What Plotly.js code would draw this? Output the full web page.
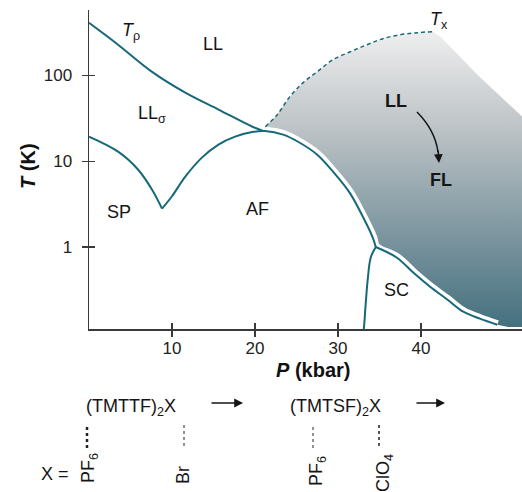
<!DOCTYPE html>
<html>
<head>
<meta charset="utf-8">
<script src="https://cdn.plot.ly/plotly-3.0.1.min.js"></script>
<style>
  html, body { margin: 0; padding: 0; background: #fff; }
  #chart { width: 522px; height: 492px; }
</style>
</head>
<body>
<div id="chart"></div>
<script>
// ---- Data (P in kbar, T in K) ----
const P_TRHO = [0, 3.5, 7.6, 11.6, 15.6, 19.7, 21.0];
const T_TRHO = [410, 228, 110, 63, 40, 25.2, 22.5];

const P_SP = [0, 3.5, 5.9, 7.6, 8.8];
const T_SP = [19.3, 12.9, 8.0, 4.65, 2.8];

const P_AF = [8.8, 10.0, 11.6, 13.6, 15.6, 17.6, 19.8, 21.2, 23.4, 25.4, 27.5, 29.4, 31.4, 33.0, 34.2, 34.55];
const T_AF = [2.8, 3.9, 6.6, 11.0, 15.6, 19.3, 22.0, 22.5, 20.4, 16.4, 11.9, 7.55, 4.3, 2.25, 1.28, 1.0];

const P_SC_LEFT = [34.55, 33.94, 33.58, 33.33, 33.1, 33.0];
const T_SC_LEFT = [1.0, 0.75, 0.416, 0.213, 0.111, 0.102];

const P_SC_UP = [34.55, 37.1, 39.1, 41.1, 43.2, 45.1, 47.1, 49.2];
const T_SC_UP = [1.0, 0.75, 0.50, 0.344, 0.243, 0.176, 0.146, 0.124];

const P_TX = [21.24, 22.68, 24.2, 25.8, 27.5, 29.4, 31.5, 33.5, 35.4, 37.5, 39.6, 41.4];
const T_TX = [25.2, 34.8, 56.5, 82.2, 110.4, 152.4, 188.8, 227.9, 267.8, 298, 314.6, 323];

// outer (right/bottom) edge of the shaded crossover region
const P_SHADE_EDGE = [42.3, 46.8, 52.2, 56, 56, 50.5];
const T_SHADE_EDGE = [285, 102, 33, 14.9, 0.117, 0.117];

const X_TICKS = [10, 20, 30, 40];
const Y_TICKS = [1, 10, 100];
const Y_TICKTEXT = ['1', '10', '100'];

// ---- build ----
const FONT = 'Liberation Sans, Arial, Helvetica, sans-serif';
const TEAL = '#17697a';
const X_RANGE = [0, 52.17];
const Y_RANGE = [-0.956, 2.762];

const iTop = P_AF.indexOf(21.2);
const afRightP = P_AF.slice(iTop);
const afRightT = T_AF.slice(iTop);

const shadeP = [].concat(P_TX, P_SHADE_EDGE, P_SC_UP.slice().reverse(), afRightP.slice().reverse().slice(1));
const shadeT = [].concat(T_TX, T_SHADE_EDGE, T_SC_UP.slice().reverse(), afRightT.slice().reverse().slice(1));

const gapP = [].concat(afRightP, P_SC_UP.slice(1));
const gapT = [].concat(afRightT, T_SC_UP.slice(1));

function curve(x, y, extra) {
  return Object.assign({
    x: x, y: y, mode: 'lines', type: 'scatter',
    line: { color: TEAL, width: 2, shape: 'spline', smoothing: 1 },
    hoverinfo: 'skip', showlegend: false
  }, extra || {});
}

const traces = [
  {
    x: shadeP, y: shadeT, mode: 'lines', type: 'scatter', fill: 'toself',
    line: { width: 0, shape: 'linear', color: 'rgba(0,0,0,0)' },
    fillgradient: {
      type: 'vertical',
      colorscale: [[0, 'rgb(68,112,126)'], [0.3, 'rgb(122,148,158)'], [0.68, 'rgb(190,196,199)'], [1, 'rgb(238,238,238)']]
    },
    hoverinfo: 'skip', showlegend: false
  },
  curve(gapP, gapT, { line: { color: '#ffffff', width: 9, shape: 'spline', smoothing: 1 } }),
  curve(P_TRHO, T_TRHO),
  curve(P_SP, T_SP),
  curve(P_AF, T_AF),
  curve(P_SC_LEFT, T_SC_LEFT),
  curve(P_SC_UP, T_SC_UP),
  curve(P_TX, T_TX, { line: { color: TEAL, width: 1.5, dash: '4px,3px', shape: 'spline', smoothing: 1 } }),
  // invisible helpers for the inside-tick overlay axes
  { x: [10], y: [1], xaxis: 'x2', yaxis: 'y', mode: 'markers', marker: { opacity: 0 }, hoverinfo: 'skip', showlegend: false },
  { x: [10], y: [1], xaxis: 'x', yaxis: 'y2', mode: 'markers', marker: { opacity: 0 }, hoverinfo: 'skip', showlegend: false }
];

// pixel -> paper helpers for decorations
const L = 89, W = 433, T0 = 10, H = 319;
const px = X => (X - L) / W;
const py = Y => (T0 + H - Y) / H;

function label(X, Y, text, opts) {
  return Object.assign({
    xref: 'paper', yref: 'paper', x: px(X), y: py(Y), text: text,
    showarrow: false, xanchor: 'center', yanchor: 'middle',
    font: { family: FONT, size: 18, color: '#151515' }
  }, opts || {});
}
function arrow(X1, Y1, X2, Y2) {
  return {
    xref: 'paper', yref: 'paper', x: px(X2), y: py(Y2), ax: X1 - X2, ay: Y1 - Y2,
    text: '', showarrow: true, arrowhead: 2, arrowsize: 1.1, arrowwidth: 1.6, arrowcolor: '#151515'
  };
}

const annotations = [
  label(131, 31, '<i>T</i><sub>ρ</sub>'),
  label(213, 43.5, 'LL'),
  label(152, 114, 'LL<sub>σ</sub>'),
  label(119, 212, 'SP'),
  label(257, 209, 'AF'),
  label(396, 290, 'SC'),
  label(439, 20, '<i>T</i><sub>x</sub>'),
  label(396, 101, '<b>LL</b>'),
  label(441, 180, '<b>FL</b>'),
  arrow(438, 149, 439, 163),
  label(28, 166, '<b><i>T</i> (K)</b>', { textangle: -90, font: { family: FONT, size: 20, color: '#111' } }),
  label(313, 370, '<b><i>P</i> (kbar)</b>', { font: { family: FONT, size: 20, color: '#111' } }),
  label(130.5, 407, '(TMTTF)<sub>2</sub>X'),
  arrow(210, 403, 243, 403),
  label(335, 407, '(TMTSF)<sub>2</sub>X'),
  arrow(415, 403, 445, 403),
  label(55, 474, 'X ='),
  label(89, 468, 'PF<sub>6</sub>', { textangle: -90 }),
  label(183, 475, 'Br', { textangle: -90 }),
  label(318, 471, 'PF<sub>6</sub>', { textangle: -90 }),
  label(384, 473, 'ClO<sub>4</sub>', { textangle: -90 })
];

function vdots(X, Y1, Y2, w) {
  return { type: 'line', xref: 'paper', yref: 'paper', x0: px(X), x1: px(X), y0: py(Y1), y1: py(Y2),
           line: { color: '#222', width: w, dash: 'dot' } };
}
const shapes = [
  { type: 'path', xref: 'paper', yref: 'paper',
    path: 'M ' + px(417) + ' ' + py(112) + ' Q ' + px(435) + ' ' + py(130) + ' ' + px(438) + ' ' + py(152),
    line: { color: '#151515', width: 1.5 } },
  vdots(87, 427, 450, 2.5),
  vdots(184, 425, 448, 1),
  vdots(313, 427, 448, 1),
  vdots(379, 425, 448, 1.5)
];

const axisCommon = { showgrid: false, zeroline: false, fixedrange: true };
const layout = {
  width: 522, height: 492,
  margin: { l: L, r: 0, t: T0, b: 492 - T0 - H, pad: 0 },
  paper_bgcolor: '#ffffff', plot_bgcolor: '#ffffff',
  showlegend: false,
  font: { family: FONT, color: '#222' },
  xaxis: Object.assign({}, axisCommon, {
    range: X_RANGE, showline: true, linecolor: '#3a3a3a', linewidth: 1.5,
    ticks: 'outside', ticklen: 6, tickwidth: 1.2, tickcolor: '#3a3a3a',
    tickmode: 'array', tickvals: X_TICKS, ticktext: X_TICKS.map(String),
    ticklabelstandoff: -3,
    tickfont: { family: FONT, size: 17, color: '#222' }
  }),
  xaxis2: Object.assign({}, axisCommon, {
    overlaying: 'x', anchor: 'y', side: 'bottom', range: X_RANGE,
    ticks: 'inside', ticklen: 6, tickwidth: 1.2, tickcolor: '#3a3a3a',
    tickmode: 'array', tickvals: X_TICKS, showticklabels: false, showline: false
  }),
  yaxis: Object.assign({}, axisCommon, {
    type: 'log', range: Y_RANGE, showline: true, linecolor: '#3a3a3a', linewidth: 1.5,
    ticks: 'outside', ticklen: 6, tickwidth: 1.2, tickcolor: '#3a3a3a',
    tickmode: 'array', tickvals: Y_TICKS, ticktext: Y_TICKTEXT,
    ticklabelstandoff: 6,
    tickfont: { family: FONT, size: 17, color: '#222' }
  }),
  yaxis2: Object.assign({}, axisCommon, {
    type: 'log', overlaying: 'y', anchor: 'x', side: 'left', range: Y_RANGE,
    ticks: 'inside', ticklen: 6, tickwidth: 1.2, tickcolor: '#3a3a3a',
    tickmode: 'array', tickvals: Y_TICKS, showticklabels: false, showline: false
  }),
  annotations: annotations,
  shapes: shapes
};

Plotly.newPlot('chart', traces, layout, { staticPlot: true, displayModeBar: false });
</script>
</body>
</html>
